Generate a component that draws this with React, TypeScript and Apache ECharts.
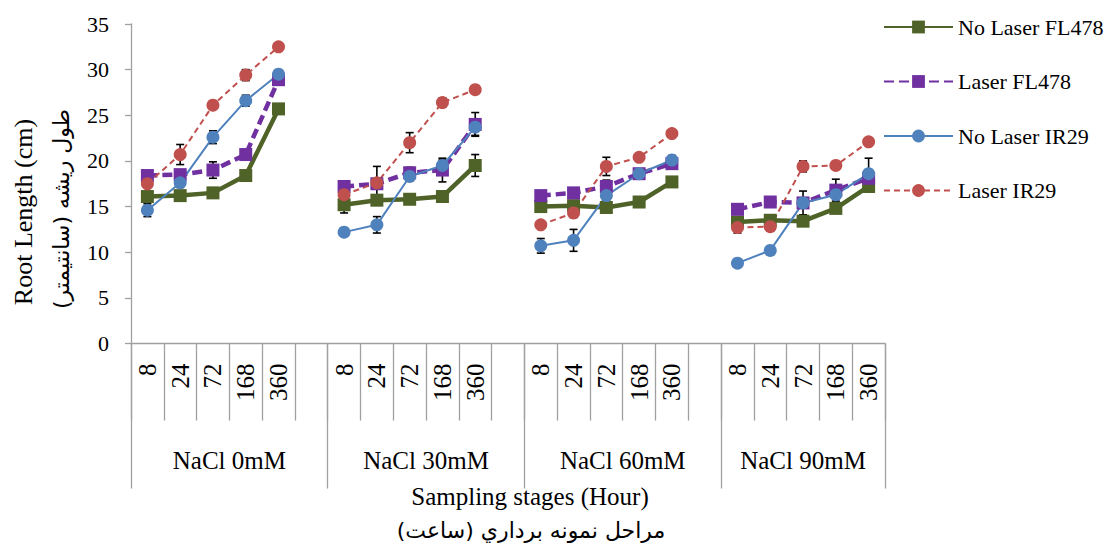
import React, { useEffect, useRef } from "react";
import * as echarts from "echarts";

// Sampling stages (hours) and salinity levels
const stages = ["8", "24", "72", "168", "360"];
const salinity = ["NaCl 0mM", "NaCl 30mM", "NaCl 60mM", "NaCl 90mM"];

// Root length (cm), one row per salinity level, one value per stage
const noLaserFL478 = [
  [16.1, 16.2, 16.5, 18.4, 25.7],
  [15.2, 15.7, 15.8, 16.1, 19.5],
  [15.0, 15.1, 14.9, 15.5, 17.7],
  [13.3, 13.5, 13.4, 14.8, 17.2],
];
const laserFL478 = [
  [18.4, 18.5, 19.0, 20.7, 28.9],
  [17.2, 17.5, 18.7, 19.0, 24.0],
  [16.2, 16.5, 17.2, 18.6, 19.7],
  [14.7, 15.5, 15.4, 16.8, 18.1],
];
const noLaserIR29 = [
  [14.6, 17.6, 22.6, 26.6, 29.5],
  [12.2, 13.0, 18.3, 19.5, 23.7],
  [10.7, 11.3, 16.2, 18.6, 20.1],
  [8.8, 10.2, 15.4, 16.3, 18.6],
];
const laserIR29 = [
  [17.5, 20.7, 26.1, 29.4, 32.5],
  [16.3, 17.6, 22.0, 26.4, 27.8],
  [13.0, 14.3, 19.4, 20.4, 23.0],
  [12.7, 12.8, 19.4, 19.5, 22.1],
];

// Standard errors (cm)
const noLaserFL478Err = [
  [0.4, 0.3, 0.4, 0.4, 0.5],
  [0.9, 0.4, 0.4, 0.4, 1.2],
  [0.3, 0.3, 0.3, 0.3, 0.4],
  [0.4, 0.3, 0.4, 0.4, 0.5],
];
const laserFL478Err = [
  [0.4, 0.4, 0.9, 0.5, 0.6],
  [0.5, 0.5, 0.6, 1.3, 1.3],
  [0.4, 0.4, 0.7, 0.4, 0.5],
  [0.4, 0.4, 0.4, 1.2, 0.5],
];
const noLaserIR29Err = [
  [0.7, 0.5, 0.7, 0.6, 0.4],
  [0.3, 0.9, 0.5, 0.6, 0.9],
  [0.8, 1.2, 0.5, 0.4, 0.5],
  [0.3, 0.3, 1.3, 0.4, 1.7],
];
const laserIR29Err = [
  [0.4, 1.1, 0.4, 0.6, 0.4],
  [0.3, 1.8, 1.1, 0.5, 0.4],
  [0.3, 0.5, 1.0, 0.4, 0.4],
  [0.6, 0.5, 0.6, 0.4, 0.4],
];

const yTicks = { min: 0, max: 35, interval: 5 };

const SERIF = "Liberation Serif";
const PERSIAN = "DejaVu Sans";
const AXIS_GREY = "#a0a0a0";

// Stage slots: five stages per salinity level, one blank slot after each level but the last
function withGaps<T>(groups: T[][], blank: T): T[] {
  const out: T[] = [];
  groups.forEach((g, i) => {
    out.push(...g);
    if (i < groups.length - 1) out.push(blank);
  });
  return out;
}

const slotLabels = withGaps(salinity.map(() => stages), "");
const groupSizes = salinity.map((_, i) => stages.length + (i < salinity.length - 1 ? 1 : 0));

// Half-slot positions for the salinity row: boundaries and centres of each level
const halfCount = slotLabels.length * 2 + 1;
const groupBounds: number[] = [0];
groupSizes.forEach((s) => groupBounds.push(groupBounds[groupBounds.length - 1] + s * 2));
const groupCentres = salinity.map((_, i) => (groupBounds[i] + groupBounds[i + 1]) / 2);
const halfLabels = Array.from({ length: halfCount }, (_, k) => {
  const gi = groupCentres.indexOf(k);
  return gi >= 0 ? salinity[gi] : "";
});

type Spec = {
  name: string;
  values: number[][];
  errors: number[][];
  color: string;
  symbol: string;
  width: number;
  dash: number[] | "solid";
};

const specs: Spec[] = [
  { name: "No Laser FL478", values: noLaserFL478, errors: noLaserFL478Err, color: "#4f6228", symbol: "rect", width: 4.5, dash: "solid" },
  { name: "Laser FL478", values: laserFL478, errors: laserFL478Err, color: "#7030a0", symbol: "rect", width: 4.5, dash: [10, 5] },
  { name: "No Laser IR29", values: noLaserIR29, errors: noLaserIR29Err, color: "#4f81bd", symbol: "circle", width: 2, dash: "solid" },
  { name: "Laser IR29", values: laserIR29, errors: laserIR29Err, color: "#c0504d", symbol: "circle", width: 2, dash: [6, 4] },
];

function buildOption(): echarts.EChartsOption {
  const lineSeries = specs.map((s) => ({
    name: s.name,
    type: "line" as const,
    xAxisIndex: 0,
    data: withGaps(s.values, null as any),
    symbol: s.symbol,
    symbolSize: 13,
    connectNulls: false,
    z: 3,
    itemStyle: { color: s.color, opacity: 1 },
    lineStyle: { color: s.color, width: s.width, type: s.dash as any },
  }));

  const errorSeries = specs.map((s) => {
    const vals = withGaps(s.values, null as any);
    const errs = withGaps(s.errors, null as any);
    const data: number[][] = [];
    vals.forEach((v: number | null, i: number) => {
      if (v != null) data.push([i, v, errs[i]]);
    });
    return {
      type: "custom" as const,
      name: s.name + " SE",
      xAxisIndex: 0,
      z: 2,
      silent: true,
      encode: { x: 0, y: 1 },
      data,
      renderItem: (params: any, api: any) => {
        const x = api.value(0);
        const v = api.value(1);
        const e = api.value(2);
        const top = api.coord([x, v + e]);
        const bot = api.coord([x, v - e]);
        const cap = 4;
        const style = { stroke: "#000", lineWidth: 1.6 };
        return {
          type: "group",
          children: [
            { type: "line", shape: { x1: top[0], y1: top[1], x2: bot[0], y2: bot[1] }, style },
            { type: "line", shape: { x1: top[0] - cap, y1: top[1], x2: top[0] + cap, y2: top[1] }, style },
            { type: "line", shape: { x1: bot[0] - cap, y1: bot[1], x2: bot[0] + cap, y2: bot[1] }, style },
          ],
        };
      },
    };
  });

  return {
    animation: false,
    backgroundColor: "#ffffff",
    textStyle: { fontFamily: SERIF },
    grid: { left: 131, right: 233, top: 24, bottom: 201.5, containLabel: false },
    legend: {
      orient: "vertical",
      left: 878,
      top: 11,
      itemWidth: 69,
      itemHeight: 16,
      itemGap: 32.5,
      data: specs.map((s) => s.name),
      textStyle: { fontFamily: SERIF, fontSize: 22, color: "#000" },
    },
    xAxis: [
      {
        type: "category",
        data: slotLabels,
        boundaryGap: true,
        axisLine: { show: true, lineStyle: { color: AXIS_GREY, width: 1.3 } },
        axisTick: { show: true, length: 77, interval: 0, lineStyle: { color: AXIS_GREY, width: 1.3 } },
        axisLabel: {
          interval: 0,
          rotate: 90,
          margin: 20,
          fontFamily: SERIF,
          fontSize: 25,
          color: "#000",
        },
        splitLine: { show: false },
      },
      {
        type: "category",
        position: "bottom",
        data: halfLabels,
        boundaryGap: false,
        axisLine: { show: false },
        axisTick: {
          show: true,
          length: 145,
          interval: (i: number) => groupBounds.includes(i),
          lineStyle: { color: AXIS_GREY, width: 1.3 },
        },
        axisLabel: {
          interval: (i: number) => groupCentres.includes(i),
          margin: 104,
          fontFamily: SERIF,
          fontSize: 25,
          color: "#000",
        },
        splitLine: { show: false },
      },
    ],
    yAxis: {
      type: "value",
      min: yTicks.min,
      max: yTicks.max,
      interval: yTicks.interval,
      axisLine: { show: true, lineStyle: { color: AXIS_GREY, width: 1.3 } },
      axisTick: { show: true, length: 6, lineStyle: { color: AXIS_GREY, width: 1.3 } },
      axisLabel: { margin: 22, fontFamily: SERIF, fontSize: 22, color: "#000" },
      splitLine: { show: false },
    },
    graphic: [
      {
        type: "text",
        x: 23,
        y: 212,
        rotation: Math.PI / 2,
        style: {
          text: "Root Length (cm)",
          fontFamily: SERIF,
          fontSize: 26,
          fill: "#000",
          align: "center",
          verticalAlign: "middle",
        } as any,
      },
      {
        type: "text",
        x: 61,
        y: 209,
        rotation: Math.PI / 2,
        style: {
          text: "طول ریشه (سانتیمتر)\u200F",
          fontFamily: PERSIAN,
          fontSize: 22,
          fill: "#000",
          align: "center",
          verticalAlign: "middle",
        } as any,
      },
      {
        type: "text",
        x: 530,
        y: 496,
        style: {
          text: "Sampling stages (Hour)",
          fontFamily: SERIF,
          fontSize: 25,
          fill: "#000",
          align: "center",
          verticalAlign: "middle",
        } as any,
      },
      {
        type: "text",
        x: 531,
        y: 530,
        style: {
          text: "مراحل نمونه برداري (ساعت)\u200F",
          fontFamily: PERSIAN,
          fontSize: 22,
          fill: "#000",
          align: "center",
          verticalAlign: "middle",
        } as any,
      },
    ],
    series: [...errorSeries, ...lineSeries] as any,
  };
}

export default function App() {
  const ref = useRef<HTMLDivElement>(null);
  useEffect(() => {
    if (!ref.current) return;
    const chart = echarts.init(ref.current, undefined, { renderer: "svg" });
    chart.setOption(buildOption());
    return () => chart.dispose();
  }, []);
  return (
    <div
      ref={ref}
      style={{ position: "fixed", left: 0, top: 0, width: 1118, height: 545, background: "#fff" }}
    />
  );
}
